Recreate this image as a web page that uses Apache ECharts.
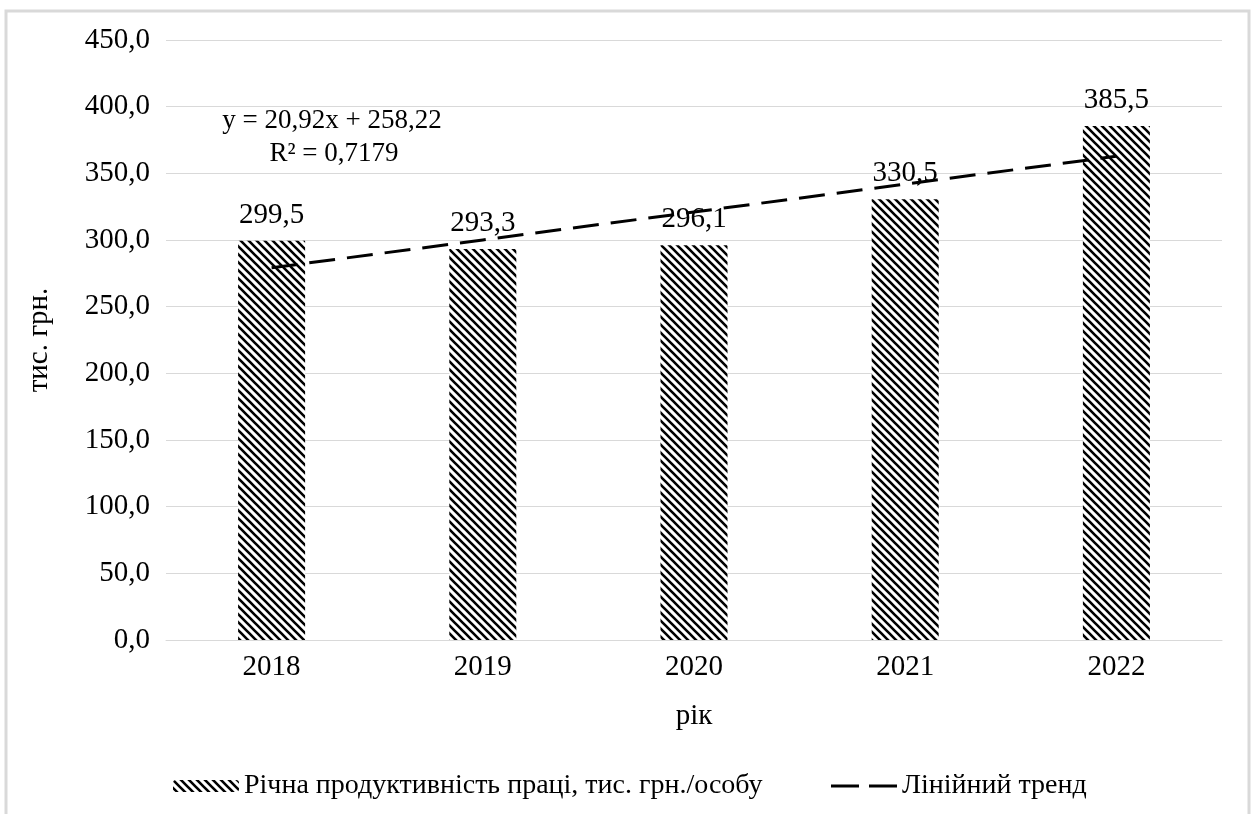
<!DOCTYPE html>
<html>
<head>
<meta charset="utf-8">
<style>
  html, body { margin: 0; padding: 0; background: #ffffff; }
  #chart { width: 1254px; height: 814px; }
</style>
<script src="https://cdn.jsdelivr.net/npm/echarts@6/dist/echarts.min.js"></script>
</head>
<body>
<div id="chart"></div>
<script>
// Річна продуктивність праці, 2018–2022
const years = ['2018', '2019', '2020', '2021', '2022'];
const productivity = [299.5, 293.3, 296.1, 330.5, 385.5];
// Лінійний тренд: y = 20,92x + 258,22
const trend = [279.14, 300.06, 320.98, 341.90, 362.82];
const yTicks = { min: 0, max: 450, interval: 50 };

const FONT = '"Liberation Serif", "DejaVu Serif", serif';
const FS = 29;

// diagonal hatch fill for the bars
function makeHatch() {
  const s = 8;
  const c = document.createElement('canvas');
  c.width = s; c.height = s;
  const g = c.getContext('2d');
  g.fillStyle = '#ffffff';
  g.fillRect(0, 0, s, s);
  g.strokeStyle = '#000000';
  g.lineWidth = 2.6;
  g.beginPath();
  g.moveTo(-2, -2); g.lineTo(s + 2, s + 2);
  g.moveTo(-2, s - 2); g.lineTo(2, s + 2);
  g.moveTo(s - 2, -2); g.lineTo(s + 2, 2);
  g.stroke();
  return c;
}
const hatch = { image: makeHatch(), repeat: 'repeat' };

const fmt = v => Number(v).toFixed(1).replace('.', ',');

const legendText = { fontFamily: FONT, fontSize: 28, color: '#000' };

const chart = echarts.init(document.getElementById('chart'));
chart.setOption({
  backgroundColor: '#ffffff',
  animation: false,
  textStyle: { fontFamily: FONT, color: '#000' },
  grid: { left: 166, right: 32, top: 40, bottom: 174, containLabel: false },
  legend: [
    {
      left: 168,
      top: 767,
      itemGap: 0,
      itemWidth: 66,
      itemHeight: 12,
      textStyle: legendText,
      data: [{ name: 'Річна продуктивність праці, тис. грн./особу' }]
    },
    {
      left: 826,
      top: 767,
      itemWidth: 66,
      itemHeight: 3,
      textStyle: legendText,
      data: [{
        name: 'Лінійний тренд',
        icon: 'path://M0,0h28v3h-28z M38,0h28v3h-28z',
        itemStyle: { color: '#000' }
      }]
    }
  ],
  xAxis: {
    type: 'category',
    data: years,
    name: 'рік',
    nameLocation: 'middle',
    nameGap: 62,
    nameTextStyle: { fontFamily: FONT, fontSize: FS, color: '#000' },
    axisLine: { show: true, lineStyle: { color: '#d9d9d9', width: 1 } },
    axisTick: { show: false },
    axisLabel: { fontFamily: FONT, fontSize: FS, color: '#000', margin: 13 }
  },
  yAxis: {
    type: 'value',
    min: yTicks.min,
    max: yTicks.max,
    interval: yTicks.interval,
    name: 'тис. грн.',
    nameLocation: 'middle',
    nameGap: 112,
    nameTextStyle: { fontFamily: FONT, fontSize: FS, color: '#000' },
    axisLine: { show: false },
    axisTick: { show: false },
    splitLine: { lineStyle: { color: '#d9d9d9', width: 1 } },
    axisLabel: { fontFamily: FONT, fontSize: FS, color: '#000', margin: 16, formatter: fmt }
  },
  series: [
    {
      name: 'Річна продуктивність праці, тис. грн./особу',
      type: 'bar',
      data: productivity,
      barWidth: 67,
      itemStyle: { color: hatch },
      label: {
        show: true,
        position: 'top',
        distance: 11,
        fontFamily: FONT,
        fontSize: FS,
        color: '#000',
        formatter: p => fmt(p.value)
      },
      z: 2
    },
    {
      name: 'Лінійний тренд',
      type: 'line',
      data: trend,
      symbol: 'none',
      lineStyle: { color: '#000', width: 3, type: [26, 12] },
      itemStyle: { color: '#000' },
      z: 3
    }
  ],
  graphic: [
    {
      type: 'rect',
      shape: { x: 6, y: 11, width: 1243, height: 830 },
      style: { fill: 'none', stroke: '#d9d9d9', lineWidth: 3 },
      silent: true
    },
    {
      type: 'text',
      x: 332, y: 121,
      style: { text: 'y = 20,92x + 258,22', font: '27px ' + FONT, fill: '#000',
               align: 'center', verticalAlign: 'middle' }
    },
    {
      type: 'text',
      x: 334, y: 154,
      style: { text: 'R² = 0,7179', font: '27px ' + FONT, fill: '#000',
               align: 'center', verticalAlign: 'middle' }
    }
  ]
});
</script>
</body>
</html>
